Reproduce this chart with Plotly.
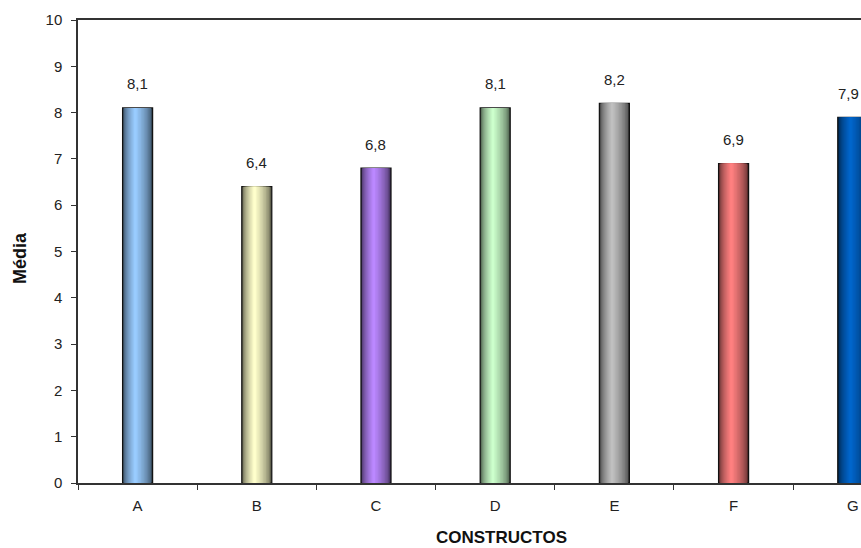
import plotly.graph_objects as go

# Mean score per construct
categories = ["A", "B", "C", "D", "E", "F", "G"]
values = [8.1, 6.4, 6.8, 8.1, 8.2, 6.9, 7.9]
labels = ["8,1", "6,4", "6,8", "8,1", "8,2", "6,9", "7,9"]
light_colors = ["#99CCFF", "#FFFFCC", "#BB88FF", "#CCFFCC", "#C0C0C0", "#FF8080", "#0066CC"]
y_ticks = list(range(0, 11))

BAR_W = 0.252
PEAK = 0.42      # position of the highlight across the bar width
N_LAYERS = 12
FONT = "Liberation Sans, Arial, sans-serif"


def hex_to_rgb(h):
    h = h.lstrip("#")
    return tuple(int(h[i:i + 2], 16) for i in (0, 2, 4))


def shade(h, t):
    """Blend from a dark edge tone (t=0) to the full colour (t=1)."""
    r, g, b = hex_to_rgb(h)
    k = 0.32 + 0.68 * t
    return f"rgb({int(r * k)},{int(g * k)},{int(b * k)})"


fig = go.Figure()

# Cylinder-like shading: nested overlaid bars, darkest and widest first
for k in range(N_LAYERS):
    f = 1 - k / N_LAYERS
    t = (k / (N_LAYERS - 1)) ** 0.55
    w = BAR_W * f
    off = -BAR_W / 2 + PEAK * BAR_W - f * PEAK * BAR_W
    fig.add_trace(go.Bar(
        x=categories,
        y=values,
        width=[w] * len(categories),
        offset=[off] * len(categories),
        marker=dict(
            color=[shade(c, t) for c in light_colors],
            line=dict(color="#111111", width=1.2 if k == 0 else 0),
        ),
        hoverinfo="skip",
        showlegend=False,
    ))

# Value labels above each bar (the last one nudged in from the right edge)
for i, (c, v, lab) in enumerate(zip(categories, values, labels)):
    fig.add_annotation(x=c, y=v, text=lab, showarrow=False, yshift=24,
                       xshift=-4 if i == len(categories) - 1 else 0,
                       font=dict(family=FONT, size=15, color="#222222"))

# Axis titles
fig.add_annotation(xref="paper", yref="paper", x=(501 - 78) / 783, y=-(548 - 483) / 463,
                   text="<b>CONSTRUCTOS</b>", showarrow=False, xanchor="center", yanchor="bottom",
                   yshift=-1, font=dict(family=FONT, size=17, color="#111111"))
fig.add_annotation(xref="paper", yref="paper", x=-(78 - 20) / 783, y=(483 - 258) / 463,
                   text="<b>Média</b>", showarrow=False, textangle=-90, xanchor="center", yanchor="middle",
                   font=dict(family=FONT, size=18, color="#111111"))

fig.update_layout(
    width=861, height=548,
    margin=dict(l=78, r=0, t=20, b=65),
    paper_bgcolor="white", plot_bgcolor="white",
    barmode="overlay",
    font=dict(family=FONT, size=15, color="#222222"),
    xaxis=dict(
        type="category",
        range=[-0.5, 6.069],
        showline=True, linecolor="#333333", linewidth=1.5, mirror=True,
        ticks="outside", tickson="boundaries", ticklen=5, tickcolor="#333333",
        ticklabelstandoff=8,
        showgrid=False, zeroline=False,
        tickfont=dict(family=FONT, size=15, color="#222222"),
    ),
    yaxis=dict(
        range=[0, 10],
        tickvals=y_ticks,
        showline=True, linecolor="#333333", linewidth=1.5,
        ticks="outside", ticklen=5, tickcolor="#333333",
        ticklabelstandoff=6,
        showgrid=False, zeroline=False,
        tickfont=dict(family=FONT, size=15, color="#222222"),
    ),
)

fig.write_html("out.html")
